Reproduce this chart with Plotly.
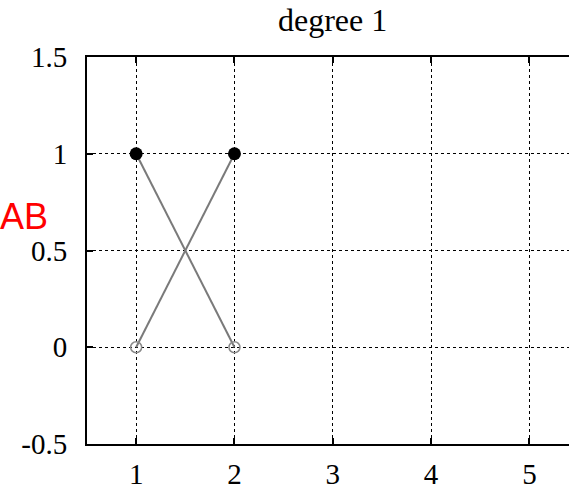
import plotly.graph_objects as go

# node positions and the two crossing links
top_x = [1, 2]
top_y = [1, 1]
bottom_x = [1, 2]
bottom_y = [0, 0]
links = [((1, 1), (2, 0)), ((2, 1), (1, 0))]

x_ticks = [1, 2, 3, 4, 5]
y_ticks = [-0.5, 0, 0.5, 1, 1.5]
y_tick_text = ["-0.5", "0", "0.5", "1", "1.5"]

W, H = 569, 490
ML, MT, MB = 87, 57, 46

fig = go.Figure()

for (x0, y0), (x1, y1) in links:
    fig.add_trace(go.Scatter(
        x=[x0, x1], y=[y0, y1], mode="lines",
        line=dict(color="#7a7a7a", width=2), showlegend=False, hoverinfo="skip"))

fig.add_trace(go.Scatter(
    x=top_x, y=top_y, mode="markers",
    marker=dict(symbol="circle", size=13, color="black"),
    showlegend=False))
fig.add_trace(go.Scatter(
    x=bottom_x, y=bottom_y, mode="markers",
    marker=dict(symbol="circle-open", size=11, color="#8a8a8a", line=dict(width=1.5)),
    showlegend=False))

serif = "Liberation Serif, Times New Roman, serif"

fig.update_layout(
    width=W, height=H,
    margin=dict(l=ML, r=0, t=MT, b=MB, autoexpand=False),
    plot_bgcolor="white", paper_bgcolor="white",
    font=dict(family=serif, size=29, color="black"),
    xaxis=dict(
        range=[0.5, 5.403], tickvals=x_ticks, ticktext=[str(v) for v in x_ticks],
        showgrid=True, gridcolor="black", gridwidth=1, griddash="dot",
        showline=True, linecolor="black", linewidth=2, mirror="ticks",
        ticks="inside", ticklen=6, tickcolor="black", tickwidth=1.5,
        zeroline=False, ticklabelstandoff=3, automargin=False,
    ),
    yaxis=dict(
        range=[-0.5, 1.5], tickvals=y_ticks, ticktext=y_tick_text,
        showgrid=True, gridcolor="black", gridwidth=1, griddash="dot",
        showline=True, linecolor="black", linewidth=2, mirror=False,
        ticks="inside", ticklen=6, tickcolor="black", tickwidth=1.5,
        zeroline=False, ticklabelstandoff=12, automargin=False,
    ),
)

plot_w = W - ML
plot_h = H - MT - MB

fig.add_annotation(
    text="degree 1", xref="paper", yref="paper",
    x=(332 - ML) / plot_w, y=1 + (MT - 20) / plot_h,
    xanchor="center", yanchor="middle", showarrow=False,
    font=dict(family=serif, size=32, color="black"))

fig.add_annotation(
    text="AB", xref="paper", yref="paper",
    x=(50 - ML) / plot_w, y=1 - (217 - MT) / plot_h,
    xanchor="right", yanchor="middle", showarrow=False,
    font=dict(family="Liberation Sans, Arial, sans-serif", size=36, color="red"))

fig.write_html("out.html")
